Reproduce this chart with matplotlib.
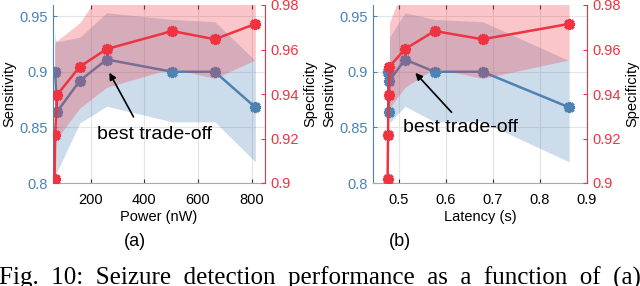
import matplotlib
matplotlib.use("Agg")
import matplotlib.pyplot as plt
import numpy as np

plt.rcParams['font.family'] = ['Liberation Sans', 'DejaVu Sans']

# ---- data ----
power = [66, 68, 75, 160, 260, 504, 663, 814]                 # nW
latency = [0.476, 0.477, 0.478, 0.480, 0.513, 0.576, 0.678, 0.862]  # s
sens = [0.900, 0.900, 0.864, 0.892, 0.911, 0.900, 0.900, 0.868]
sens_lo = [0.800, 0.805, 0.810, 0.854, 0.869, 0.855, 0.855, 0.819]
sens_hi = [0.940, 0.930, 0.927, 0.931, 0.953, 0.947, 0.945, 0.910]
spec = [0.9017, 0.9216, 0.9396, 0.9523, 0.9602, 0.9683, 0.9646, 0.9715]
spec_lo = [0.918, 0.918, 0.920, 0.9337, 0.943, 0.9515, 0.947, 0.9553]
spec_hi = [0.962, 0.963, 0.964, 0.972, 0.990, 0.990, 0.990, 0.990]

sens_ticks = [0.8, 0.85, 0.9, 0.95]
sens_ticklabels = ['0.8', '0.85', '0.9', '0.95']
spec_ticks = [0.9, 0.92, 0.94, 0.96, 0.98]
spec_ticklabels = ['0.9', '0.92', '0.94', '0.96', '0.98']
power_ticks = [200, 400, 600, 800]
lat_ticks = [0.5, 0.6, 0.7, 0.8, 0.9]
lat_ticklabels = ['0.5', '0.6', '0.7', '0.8', '0.9']

BLUE = '#4d82b5'
RED = '#ef3340'
MK = (8, 2, 0)

fig = plt.figure(figsize=(6.4, 2.86), dpi=100)


def panel(rect, x, xlim, xticks, xticklabels, xlabel, band_start, text_xy, arrow_tail, arrow_tip, tag, tag_x):
    ax = fig.add_axes(rect)
    ax.set_facecolor('none')
    xs = x[band_start:]
    ax.fill_between(xs, sens_lo[band_start:], sens_hi[band_start:], color=BLUE, alpha=0.28, lw=0)
    ax.plot(x, sens, color=BLUE, lw=1.8, marker=MK, ms=8, mew=2.3, zorder=3)
    ax.set_xlim(*xlim)
    ax.set_ylim(0.8, 0.96)
    ax.set_yticks(sens_ticks)
    ax.set_yticklabels(sens_ticklabels)
    ax.set_xticks(xticks)
    ax.set_xticklabels(xticklabels)
    ax.grid(True, color='#e4e4e4', lw=0.8)
    ax.set_axisbelow(True)
    ax.tick_params(axis='y', colors=BLUE, labelsize=10.5, direction='in', length=3, pad=4)
    ax.tick_params(axis='x', colors='#333333', labelcolor='black', labelsize=10.5,
                   direction='in', length=3, top=True, pad=7)
    ax.spines['left'].set_color(BLUE)
    ax.spines['top'].set_visible(False)
    ax.spines['right'].set_visible(False)
    ax.spines['bottom'].set_color('#aaaaaa')
    ax.set_ylabel('Sensitivity', fontsize=10.5, labelpad=2)
    ax.set_xlabel(xlabel, fontsize=10.5, labelpad=2)

    ax2 = ax.twinx()
    ax2.fill_between(xs, spec_lo[band_start:], spec_hi[band_start:], color=RED, alpha=0.28, lw=0)
    ax2.plot(x, spec, color=RED, lw=1.8, marker=MK, ms=8, mew=2.3, zorder=3)
    ax2.set_ylim(0.9, 0.98)
    ax2.set_yticks(spec_ticks)
    ax2.set_yticklabels(spec_ticklabels)
    ax2.tick_params(axis='y', colors=RED, labelsize=10.5, direction='in', length=3, pad=4)
    ax2.spines['right'].set_color(RED)
    ax2.spines['left'].set_visible(False)
    ax2.spines['top'].set_visible(False)
    ax2.spines['bottom'].set_visible(False)
    ax2.set_ylabel('Specificity', fontsize=10.5, labelpad=3)

    ax2.annotate('', xy=arrow_tip, xycoords=ax.transData,
                 xytext=arrow_tail, textcoords=ax.transData,
                 arrowprops=dict(arrowstyle='-|>', color='black', lw=1.2, mutation_scale=10))
    ax2.text(text_xy[0], text_xy[1], 'best trade-off', transform=ax.transData,
             ha='center', va='center', fontsize=14, color='black')
    fig.text(tag_x, 1 - 242 / 286, tag, ha='center', va='center', fontsize=13)
    return ax, ax2


panel([53 / 640, 1 - 183 / 286, 212 / 640, 178 / 286], power, (60, 850),
      power_ticks, [str(t) for t in power_ticks], 'Power (nW)', 0,
      (438, 0.8435), (365, 0.8572), (265, 0.9014), '(a)', 135 / 640)

panel([373 / 640, 1 - 183 / 286, 214 / 640, 178 / 286], latency, (0.445, 0.9),
      lat_ticks, lat_ticklabels, 'Latency (s)', 3,
      (0.630, 0.8500), (0.616, 0.8617), (0.531, 0.9008), '(b)', 400 / 640)

fig.text(-0.002, 0.004, 'Fig.  10:  Seizure  detection  performance  as  a  function  of  (a)',
         family=['Liberation Serif', 'DejaVu Serif'], fontsize=18, ha='left', va='baseline')

fig.savefig('out.png', dpi=100)
